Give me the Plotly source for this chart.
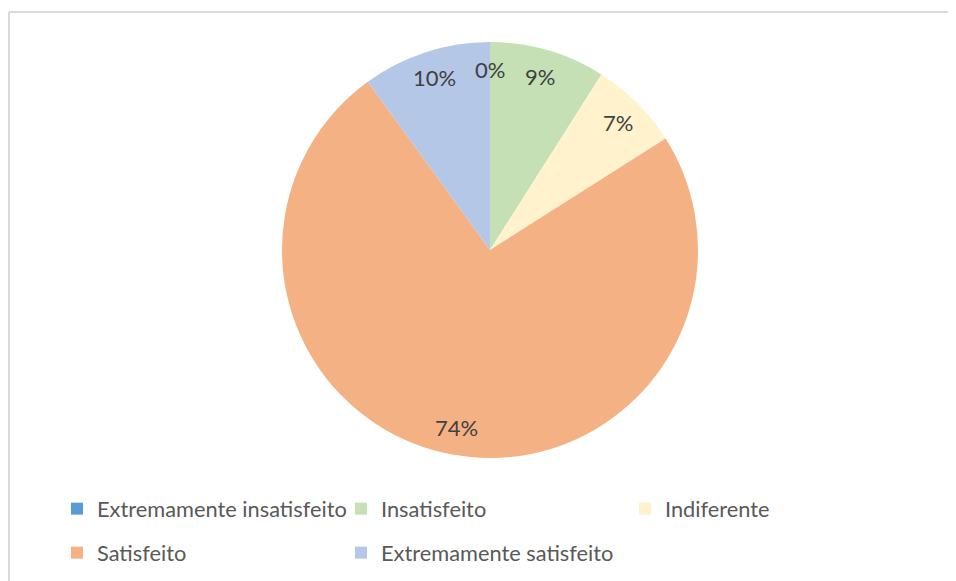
import math
import plotly.graph_objects as go

labels = ["Extremamente insatisfeito", "Insatisfeito", "Indiferente", "Satisfeito", "Extremamente satisfeito"]
values = [0, 9, 7, 74, 10]
colors = ["#5B9BD5", "#C5E0B4", "#FFF2CC", "#F4B183", "#B4C7E7"]
legend_rows = ["legend", "legend", "legend", "legend2", "legend2"]

# page has an 8px body margin: work in figure pixel coordinates
OFF = 8
W, H = 956 - OFF, 581 - OFF
cx, cy, R = 490 - OFF, 250 - OFF, 208
label_r = 0.87

fig = go.Figure()
fig.add_trace(go.Pie(
    labels=labels, values=values, sort=False, direction="clockwise", rotation=0,
    marker=dict(colors=colors, line=dict(width=0)),
    textinfo="none", hoverinfo="label+percent", showlegend=False,
    domain=dict(x=[(cx - R) / W, (cx + R) / W], y=[1 - (cy + R) / H, 1 - (cy - R) / H]),
))

# legend entries
for lab, col, lg in zip(labels, colors, legend_rows):
    fig.add_trace(go.Scatter(x=[None], y=[None], mode="markers", name=lab,
                             marker=dict(symbol="square", size=12, color=col),
                             legend=lg, hoverinfo="skip"))

# percentage labels
total = sum(values)
cum = 0
for v in values:
    mid = 2 * math.pi * (cum + v / 2) / total
    cum += v
    px = cx + label_r * R * math.sin(mid)
    py = cy - label_r * R * math.cos(mid)
    fig.add_annotation(x=px / W, y=1 - py / H, xref="paper", yref="paper",
                       xanchor="center", yanchor="middle",
                       text=f"{round(100 * v / total)}%", showarrow=False,
                       font=dict(family="Lato", size=22, color="#404040"))

legend_common = dict(orientation="h", entrywidth=239, entrywidthmode="pixels",
                     xanchor="left", yanchor="middle", bgcolor="rgba(0,0,0,0)",
                     font=dict(family="Lato", size=21.8, color="#595959"))

leg_x = (57 - OFF) / W
fig.update_layout(
    width=W, height=H, margin=dict(l=0, r=0, t=0, b=0),
    paper_bgcolor="white", plot_bgcolor="white",
    xaxis=dict(visible=False), yaxis=dict(visible=False),
    legend=dict(x=leg_x, y=1 - (509 - OFF) / H, **legend_common),
    legend2=dict(x=leg_x, y=1 - (553 - OFF) / H, **legend_common),
    shapes=[dict(type="line", xref="paper", yref="paper", x0=(9 - OFF) / W, x1=1.01,
                 y0=1 - (12 - OFF) / H, y1=1 - (12 - OFF) / H,
                 line=dict(color="#d9d9d9", width=2)),
            dict(type="line", xref="paper", yref="paper", x0=(9 - OFF) / W, x1=(9 - OFF) / W,
                 y0=-0.01, y1=1 - (12 - OFF) / H,
                 line=dict(color="#d9d9d9", width=2))],
)

fig.write_html("out.html")
